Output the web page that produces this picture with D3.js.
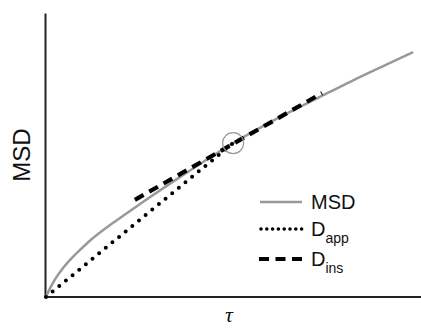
<!DOCTYPE html>
<html>
<head>
<meta charset="utf-8">
<script src="https://cdn.jsdelivr.net/npm/d3@7"></script>
<style>
  body { margin: 0; background: #fff; }
  text { font-family: "Liberation Sans", Arial, sans-serif; fill: #111; }
</style>
</head>
<body>
<div id="chart"></div>
<script>
// values (arbitrary units)
var tau = [0, 0.06, 0.24, 0.46, 0.73, 0.91, 1.17, 1.80, 2.24, 2.69, 3.57, 4.64, 4.99, 5.79, 6.69, 7.57, 8.19, 9.09, 9.79];
var msd = [0, 0.18, 0.62, 1.03, 1.43, 1.66, 1.98, 2.62, 3.03, 3.44, 4.22, 5.13, 5.42, 6.02, 6.64, 7.22, 7.63, 8.19, 8.62];
// apparent diffusion: secant from origin to the marked point
var dappTau = [0, 4.99];
var dappMsd = [0, 5.42];
// instantaneous diffusion: tangent through the marked point
var dinsTau = [2.37, 7.36];
var dinsMsd = [3.42, 7.18];
// marked point
var markTau = 4.99, markMsd = 5.42;
var legendLabels = [["MSD", ""], ["D", "app"], ["D", "ins"]];

var W = 421, H = 329;
var svg = d3.select("#chart").append("svg")
  .attr("width", W).attr("height", H);

var x = d3.scaleLinear().domain([0, 10]).range([46, 421]);
var y = d3.scaleLinear().domain([0, 10]).range([297, 13]);

// axes, no ticks
var xAxis = svg.append("g")
  .attr("transform", "translate(0," + 297 + ")")
  .call(d3.axisBottom(x).ticks(0).tickSizeOuter(0));
var yAxis = svg.append("g")
  .attr("transform", "translate(45,0)")
  .call(d3.axisLeft(y).ticks(0).tickSizeOuter(0));
svg.selectAll(".domain").attr("stroke", "#222").attr("stroke-width", 2);
xAxis.select(".domain").attr("d", "M44,0H421");

var line = d3.line()
  .x(function(d) { return x(d[0]); })
  .y(function(d) { return y(d[1]); });

// MSD curve
svg.append("path")
  .datum(d3.zip(tau, msd))
  .attr("fill", "none")
  .attr("stroke", "#999")
  .attr("stroke-width", 2.5)
  .attr("d", line.curve(d3.curveMonotoneX));

line.curve(d3.curveLinear);

// D_app dotted
svg.append("path")
  .datum(d3.zip(dappTau, dappMsd))
  .attr("fill", "none")
  .attr("stroke", "#000")
  .attr("stroke-width", 4)
  .attr("stroke-linecap", "round")
  .attr("stroke-dasharray", "0 8.6")
  .attr("d", line);

// D_ins dashed
svg.append("path")
  .datum(d3.zip(dinsTau, dinsMsd))
  .attr("fill", "none")
  .attr("stroke", "#000")
  .attr("stroke-width", 4.2)
  .attr("stroke-dasharray", "10 6.5")
  .attr("d", line);

// circle at the marked point
svg.append("circle")
  .attr("cx", x(markTau))
  .attr("cy", y(markMsd))
  .attr("r", 10.5)
  .attr("fill", "none")
  .attr("stroke", "#999")
  .attr("stroke-width", 1.2);

// axis titles
svg.append("text")
  .attr("transform", "translate(30,155)rotate(-90)")
  .attr("text-anchor", "middle")
  .style("font-size", "24px")
  .text("MSD");

svg.append("text")
  .attr("x", 229)
  .attr("y", 322)
  .attr("text-anchor", "middle")
  .style("font-family", "'Liberation Serif', 'Times New Roman', serif")
  .style("font-style", "italic")
  .style("font-size", "22px")
  .text("τ");

// legend
var legY = [202, 229, 259];
var leg = svg.append("g");
leg.append("line").attr("x1", 260).attr("x2", 302).attr("y1", legY[0]).attr("y2", legY[0])
  .attr("stroke", "#999").attr("stroke-width", 2.5);
leg.append("line").attr("x1", 261).attr("x2", 302).attr("y1", legY[1]).attr("y2", legY[1])
  .attr("stroke", "#000").attr("stroke-width", 3.6).attr("stroke-linecap", "round")
  .attr("stroke-dasharray", "0 5.8");
leg.append("line").attr("x1", 259).attr("x2", 302).attr("y1", legY[2]).attr("y2", legY[2])
  .attr("stroke", "#000").attr("stroke-width", 4.2)
  .attr("stroke-dasharray", "10 6.5");

legendLabels.forEach(function(l, i) {
  var t = leg.append("text")
    .attr("x", 311)
    .attr("y", legY[i] + 7)
    .style("font-size", "20px");
  t.append("tspan").text(l[0]);
  if (l[1]) {
    t.append("tspan")
      .attr("dy", 7)
      .style("font-size", "14px")
      .text(l[1]);
  }
});
</script>
</body>
</html>
